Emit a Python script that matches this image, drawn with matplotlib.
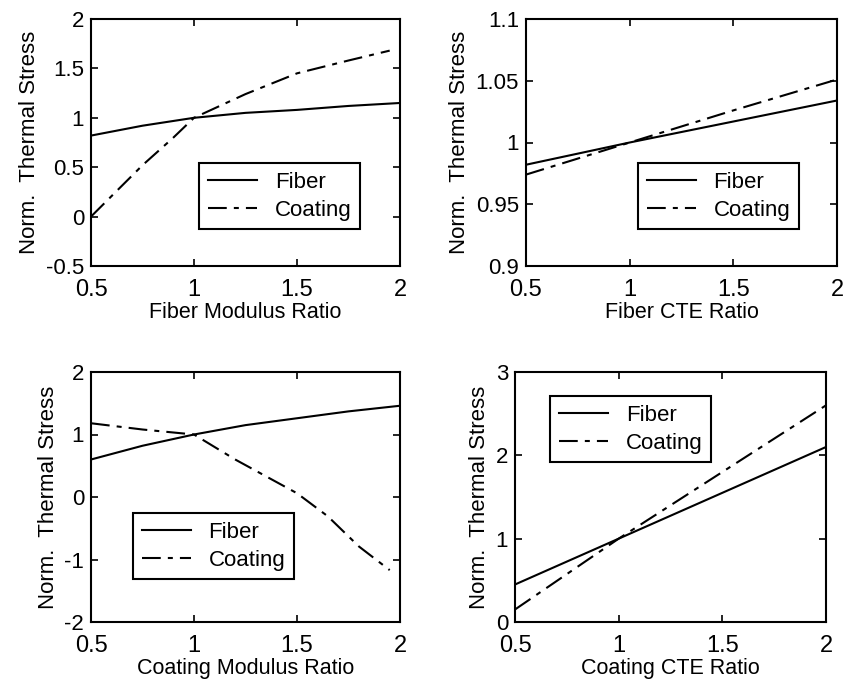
import numpy as np
import matplotlib.pyplot as plt

plt.rcParams['font.family'] = ['Liberation Sans', 'DejaVu Sans']

# panel 1: fiber modulus ratio
fm_x_fiber = [0.5, 0.75, 1.0, 1.25, 1.5, 1.75, 2.0]
fm_fiber = [0.82, 0.92, 1.0, 1.05, 1.08, 1.12, 1.15]
fm_x_coat = [0.5, 0.75, 0.9, 1.0, 1.25, 1.5, 1.75, 1.95]
fm_coat = [0.0, 0.52, 0.80, 1.0, 1.24, 1.45, 1.58, 1.68]

# panel 2: fiber CTE ratio
fc_x = [0.5, 1.0, 1.5, 2.0]
fc_fiber = [0.982, 1.0, 1.017, 1.034]
fc_coat = [0.974, 1.0, 1.026, 1.051]

# panel 3: coating modulus ratio
cm_x_fiber = [0.5, 0.75, 1.0, 1.25, 1.5, 1.75, 2.0]
cm_fiber = [0.60, 0.82, 1.0, 1.15, 1.26, 1.37, 1.46]
cm_x_coat = [0.5, 0.75, 1.0, 1.2, 1.35, 1.5, 1.65, 1.8, 1.95]
cm_coat = [1.18, 1.08, 1.0, 0.60, 0.33, 0.06, -0.31, -0.79, -1.17]

# panel 4: coating CTE ratio
cc_x = [0.5, 1.0, 1.5, 2.0]
cc_fiber = [0.45, 1.0, 1.55, 2.1]
cc_coat = [0.15, 1.0, 1.8, 2.6]

W, H = 844, 683
fig = plt.figure(figsize=(W / 100, H / 100), dpi=100)

# axes boxes in pixels: left, right, top, bottom
boxes = [(91, 400, 19, 266), (526, 837, 19, 266),
         (91, 400, 372, 622), (515, 826, 372, 622)]
panels = [
    (fm_x_fiber, fm_fiber, fm_x_coat, fm_coat, 'Fiber Modulus Ratio',
     (-0.5, 2), [-0.5, 0, 0.5, 1, 1.5, 2], ['-0.5', '0', '0.5', '1', '1.5', '2'], (0.35, 0.417)),
    (fc_x, fc_fiber, fc_x, fc_coat, 'Fiber CTE Ratio',
     (0.9, 1.1), [0.9, 0.95, 1.0, 1.05, 1.1], ['0.9', '0.95', '1', '1.05', '1.1'], (0.36, 0.417)),
    (cm_x_fiber, cm_fiber, cm_x_coat, cm_coat, 'Coating Modulus Ratio',
     (-2, 2), [-2, -1, 0, 1, 2], ['-2', '-1', '0', '1', '2'], (0.136, 0.436)),
    (cc_x, cc_fiber, cc_x, cc_coat, 'Coating CTE Ratio',
     (0, 3), [0, 1, 2, 3], ['0', '1', '2', '3'], (0.113, 0.904)),
]

dash = (0, (9, 3.4, 2.4, 3.4))

for (l, r, t, b), (xf, yf, xc, yc, xlab, ylim, yt, ytl, leg) in zip(boxes, panels):
    ax = fig.add_axes([l / W, 1 - b / H, (r - l) / W, (b - t) / H])
    ax.plot(xf, yf, color='black', lw=1.5, label='Fiber')
    ax.plot(xc, yc, color='black', lw=1.5, linestyle=dash, label='Coating')
    ax.set_xlim(0.5, 2)
    ax.set_ylim(*ylim)
    ax.set_xticks([0.5, 1, 1.5, 2])
    ax.set_xticklabels(['0.5', '1', '1.5', '2'], fontsize=17)
    ax.set_yticks(yt)
    ax.set_yticklabels(ytl, fontsize=16)
    ax.tick_params(direction='in', top=True, right=True, length=5, width=1.2)
    ax.tick_params(axis='x', pad=9)
    ax.tick_params(axis='y', pad=5)
    for s in ax.spines.values():
        s.set_linewidth(1.5)
    ax.set_xlabel(xlab, fontsize=15.5, labelpad=1)
    ax.set_ylabel('Norm.  Thermal Stress', fontsize=16, labelpad=4)
    lg = ax.legend(loc='upper left', bbox_to_anchor=leg, fontsize=16, frameon=True,
                   fancybox=False, shadow=False, framealpha=1, edgecolor='black',
                   handlelength=2.2, borderpad=0.4, labelspacing=0.3, handletextpad=0.8,
                   borderaxespad=0)
    lg.get_frame().set_linewidth(1.5)

fig.savefig('out.png', dpi=100)
